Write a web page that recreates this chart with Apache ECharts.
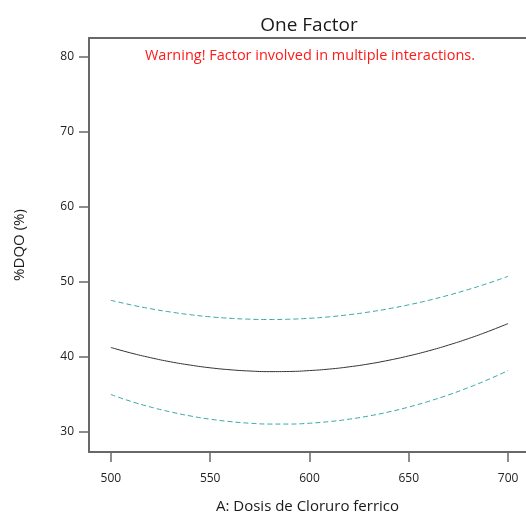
<!DOCTYPE html>
<html>
<head>
<meta charset="utf-8">
<script src="https://cdn.jsdelivr.net/npm/echarts@6/dist/echarts.min.js"></script>
<style>html,body{margin:0;padding:0;background:#fff;}#c{width:526px;height:515px;}</style>
</head>
<body>
<div id="c"></div>
<script>
var xValues = [500,510,520,530,540,550,560,570,580,590,600,610,620,630,640,650,660,670,680,690,700];
var predicted = [41.27,40.54,39.91,39.36,38.92,38.56,38.30,38.13,38.05,38.07,38.19,38.39,38.69,39.08,39.57,40.15,40.82,41.59,42.45,43.41,44.46];
var upperCI = [47.56,46.96,46.44,46.00,45.64,45.36,45.16,45.04,45.00,45.04,45.16,45.36,45.64,46.00,46.44,46.96,47.56,48.24,49.00,49.84,50.76];
var lowerCI = [35.00,34.09,33.33,32.68,32.14,31.71,31.39,31.17,31.06,31.06,31.17,31.39,31.71,32.14,32.68,33.33,34.09,34.95,35.92,37.00,38.19];
var xTicks = [500,550,600,650,700];
var yTicks = [30,40,50,60,70,80];

function pairs(ys){ return xValues.map(function(x,i){ return [x, ys[i]]; }); }

var font = '"Open Sans", "Noto Sans", sans-serif';
var axisColor = '#686868';
var chart = echarts.init(document.getElementById('c'), null, {renderer:'canvas'});
chart.setOption({
  animation: false,
  title: [
    {text:'One Factor', left:304, top:11, textAlign:'center',
     textStyle:{fontFamily:font, fontSize:19, fontWeight:'normal', color:'#1a1a1a'}},
    {text:'Warning! Factor involved in multiple interactions.', left:305, top:43, textAlign:'center',
     textStyle:{fontFamily:font, fontSize:14.5, fontWeight:'normal', color:'#ff1a1a'}}
  ],
  grid: {left:89, top:38, right:0, bottom:63, containLabel:false, outerBoundsMode:'none'},
  xAxis: [{
    type:'value', min:489, max:709,
    name:'A: Dosis de Cloruro ferrico', nameLocation:'middle', nameGap:47,
    nameTextStyle:{fontFamily:font, fontSize:15, color:'#1a1a1a'},
    axisLine:{show:true, onZero:false, lineStyle:{color:axisColor, width:2}},
    axisTick:{show:true, customValues:xTicks, length:10, lineStyle:{color:axisColor, width:1.5}},
    axisLabel:{customValues:xTicks, margin:21, fontFamily:font, fontSize:12, color:'#222'},
    splitLine:{show:false}
  },{
    type:'value', position:'top', min:489, max:709,
    axisLine:{show:true, lineStyle:{color:axisColor, width:2}},
    axisTick:{show:false}, axisLabel:{show:false}, splitLine:{show:false}
  }],
  yAxis: {
    type:'value', min:27.333, max:82.533,
    name:'%DQO (%)', nameLocation:'middle', nameGap:62, nameRotate:90,
    nameTextStyle:{fontFamily:font, fontSize:15, color:'#1a1a1a'},
    axisLine:{show:true, onZero:false, lineStyle:{color:axisColor, width:2}},
    axisTick:{show:true, customValues:yTicks, length:10, lineStyle:{color:axisColor, width:1.5}},
    axisLabel:{customValues:yTicks, margin:15, fontFamily:font, fontSize:12, color:'#222'},
    splitLine:{show:false}
  },
  series: [
    {type:'line', data:pairs(upperCI), smooth:true, showSymbol:false,
     lineStyle:{color:'#3aa6a6', width:1, type:[5,3]}},
    {type:'line', data:pairs(predicted), smooth:true, showSymbol:false,
     lineStyle:{color:'#333', width:1}},
    {type:'line', data:pairs(lowerCI), smooth:true, showSymbol:false,
     lineStyle:{color:'#3aa6a6', width:1, type:[5,3]}}
  ]
});
</script>
</body>
</html>
